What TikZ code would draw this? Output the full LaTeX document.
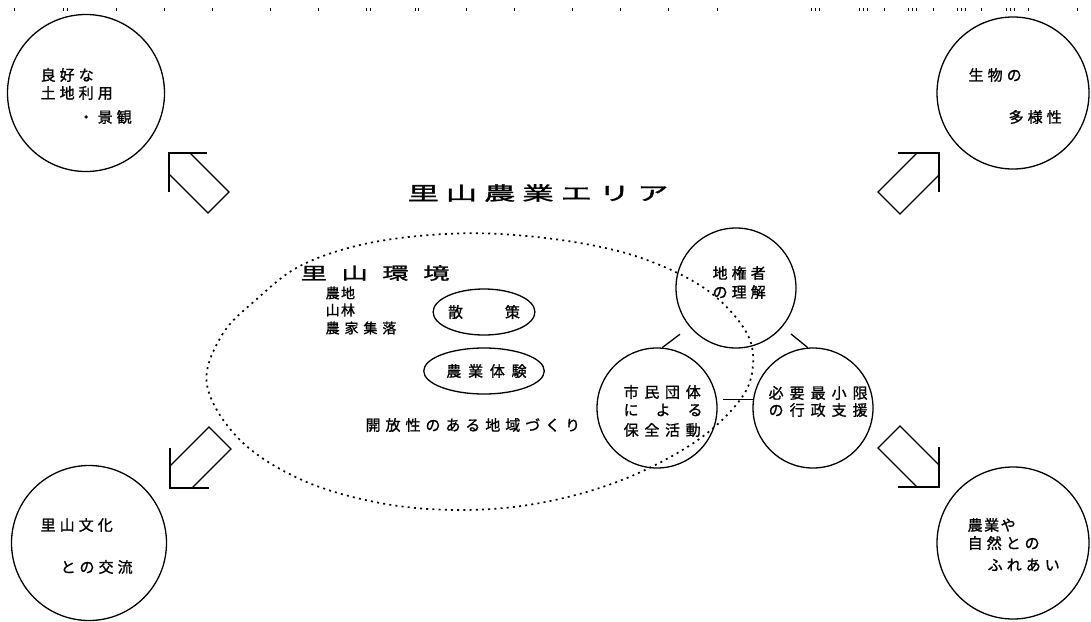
\documentclass[tikz,border=0pt]{standalone}
\usepackage{fontspec}
\setmainfont{Noto Sans CJK JP}
\usetikzlibrary{shapes.geometric}
\newcommand\jpf[2]{\fontsize{#1pt}{#1pt}\selectfont\addfontfeature{LetterSpace=#2,FakeBold=1.2}}
\begin{document}
\begin{tikzpicture}[x=1pt,y=-1pt,line width=1.3pt,
  bigc/.style={draw,circle,inner sep=0pt,minimum size=154pt},
  smallc/.style={draw,circle,inner sep=0pt,minimum size=120pt},
  ell/.style={draw,ellipse,inner sep=0pt,minimum width=98pt,minimum height=46pt},
  txt/.style={inner sep=0pt,anchor=west,font=\jpf{15}{27}},
  arrowline/.style={line width=1.3pt,line join=miter},
  dotline/.style={line width=1.7pt,dash pattern=on 2pt off 4.2pt}]
\useasboundingbox (0,0) rectangle (1091,621);

% top row of specks
\foreach \x in {14,63,67,116,164,212,270,318,366,370,415,418,466,514,572,620,668,717,811,815,819,859,863,867,884,908,912,916,933,957,961,965,981,1006,1010,1014,1028,1077}
  \fill (\x,8) rectangle ++(1.3,3);

% corner circles
\node[bigc,minimum size=157pt] (cTL) at (86,93) {};
\node[bigc,minimum size=152pt] (cTR) at (1013,93) {};
\node[bigc,minimum size=155pt] (cBL) at (89,543) {};
\node[bigc,minimum size=152pt] (cBR) at (1013,543) {};

\node[txt] (tl1) at (40,75) {良好な};
\node[txt] (tl2) at (40,93) {土地利用};
\node[txt] (tl3) at (78,117) {・景観};
\node[txt] (tr1) at (968,75) {生物の};
\node[txt] (tr2) at (1008,117) {多様性};
\node[txt] (bl1) at (40,525) {里山文化};
\node[txt] (bl2) at (60,567) {との交流};
\node[txt,font=\jpf{15}{10}] (br1) at (967,525) {農業や};
\node[txt] (br2) at (967,543) {自然との};
\node[txt] (br3) at (987,565) {ふれあい};

% hollow arrows
\draw[arrowline] (207,153) -- (169,153) -- (169,192);
\draw[arrowline] (190,153) -- (229,192) -- (208,213) -- (169,174);
\draw[arrowline] (898,153) -- (939,153) -- (939,192);
\draw[arrowline] (917,153) -- (878,192) -- (900,214) -- (939,175);
\draw[arrowline] (170,448) -- (170,488) -- (209,488);
\draw[arrowline] (170,466) -- (209,427) -- (231,449) -- (192,488);
\draw[arrowline] (939,447) -- (939,487) -- (898,487);
\draw[arrowline] (939,465) -- (900,426) -- (878,448) -- (917,487);

% title
\node[inner sep=0pt,anchor=west,font=\jpf{19}{22}] (title) at (407,193) {\scalebox{1.65}[1]{里山農業エリア}};

% dotted area
\draw[dotline] plot[smooth cycle,tension=0.6] coordinates {
 (207,385) (222,335) (258,298) (300,266) (360,245) (430,235) (500,234) (580,243)
 (647,260) (707,290) (745,330) (753,365) (740,400) (695,442) (622,480) (540,503)
 (460,510) (380,503) (302,480) (240,440)};

% inner texts
\node[inner sep=0pt,anchor=west,font=\jpf{17}{55}] (env) at (300,273) {\scalebox{1.55}[1]{里山環境}};
\node[txt,font=\jpf{14}{10}] (e1) at (325,293) {農地};
\node[txt,font=\jpf{14}{10}] (e2) at (325,310) {山林};
\node[txt,font=\jpf{14}{35}] (e3) at (325,328) {農家集落};

\node[ell,font=\jpf{15}{0}] (walk) at (484,312) {散\hspace{42pt}策};
\node[ell,font=\jpf{15}{45}] (farm) at (484,371) {\hspace{5pt}農業体験};
\node[txt,font=\jpf{15}{33}] (open) at (365,425) {開放性のある地域づくり};

% three circles
\node[smallc] (cT) at (736,288) {};
\node[smallc] (cL) at (657,408) {};
\node[smallc] (cR) at (813,408) {};

\node[txt] (t1) at (712,273) {地権者};
\node[txt] (t2) at (712,292) {の理解};
\node[txt,font=\jpf{15}{38}] (l1) at (623,392) {市民団体};
\node[txt,font=\jpf{15}{0}] (l2) at (623,410) {に\hspace{17pt}よ\hspace{17pt}る};
\node[txt,font=\jpf{15}{38}] (l3) at (623,430) {保全活動};
\node[txt,font=\jpf{15}{40}] (r1) at (768,393) {必要最小限};
\node[txt,font=\jpf{15}{40}] (r2) at (768,410) {の行政支援};

\draw[shorten >=12pt] (cL.85) -- (cT.220);
\draw[shorten >=11pt] (cR.95) -- (cT.-40);
\draw[shorten <=6pt] (cL.8) -- (cR.172);
\end{tikzpicture}
\end{document}
